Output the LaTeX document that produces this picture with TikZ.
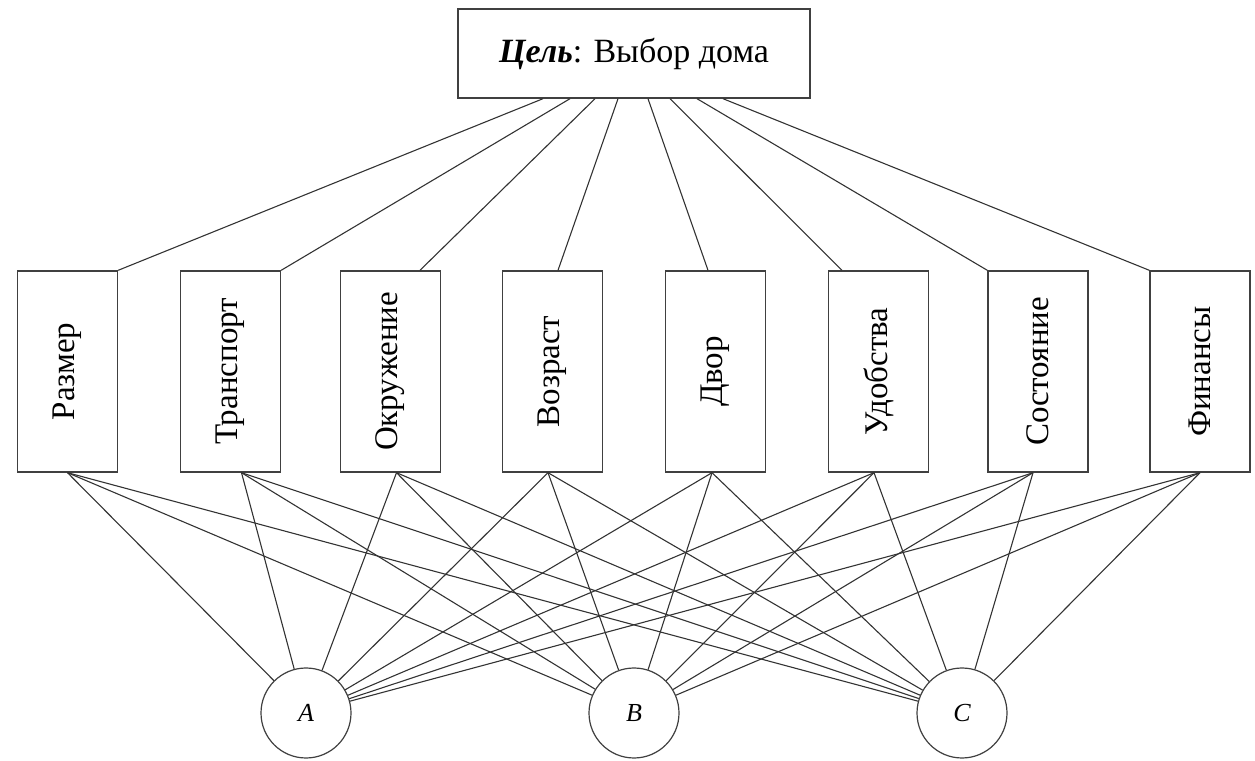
\documentclass[tikz,border=0pt]{standalone}
\usepackage{fontspec}
\setmainfont{Liberation Serif}
\begin{document}
\begin{tikzpicture}[x=1pt,y=1pt,
  frame/.style={draw=black!75, line width=1.4pt, fill=white, inner sep=0pt},
  crit/.style={frame, minimum width=100pt, minimum height=201pt},
  label/.style={rotate=90, font=\fontsize{33}{38}\selectfont},
  alt/.style={draw=black!75, line width=1.2pt, circle, minimum size=90pt, inner sep=0pt,
              font=\fontsize{26}{30}\selectfont\itshape},
  link/.style={draw=black!80, line width=1.1pt}]
\useasboundingbox (0,0) rectangle (1255,760);

% goal
\node[frame, minimum width=352pt, minimum height=89pt,
      font=\fontsize{34}{40}\selectfont] (goal) at (634,706.5)
      {{\bfseries\itshape Цель}: Выбор дома};

% criteria
\node[crit] (c1) at (67.5,388.5) {};
\node[crit] (c2) at (230.5,388.5) {};
\node[crit] (c3) at (390.5,388.5) {};
\node[crit] (c4) at (552.5,388.5) {};
\node[crit] (c5) at (715.5,388.5) {};
\node[crit] (c6) at (878.5,388.5) {};
\node[crit] (c7) at (1038,388.5) {};
\node[crit] (c8) at (1200,388.5) {};
\node[label] at (c1) {Размер};
\node[label] at (c2) {Транспорт};
\node[label] at (c3) {Окружение};
\node[label] at (c4) {Возраст};
\node[label] at (c5) {Двор};
\node[label] at (c6) {Удобства};
\node[label] at (c7) {Состояние};
\node[label] at (c8) {Финансы};

% alternatives
\node[alt] (A) at (306,47) {A};
\node[alt] (B) at (634,47) {B};
\node[alt] (C) at (962,47) {C};

% goal to criteria
\draw[link] ([xshift=-91pt]goal.south) -- (c1.north east);
\draw[link] ([xshift=-64pt]goal.south) -- (c2.north east);
\draw[link] ([xshift=-39pt]goal.south) -- ([xshift=29.5pt]c3.north);
\draw[link] ([xshift=-16pt]goal.south) -- ([xshift=5.5pt]c4.north);
\draw[link] ([xshift=14pt]goal.south) -- ([xshift=-7.5pt]c5.north);
\draw[link] ([xshift=36pt]goal.south) -- ([xshift=-36.5pt]c6.north);
\draw[link] ([xshift=63pt]goal.south) -- (c7.north west);
\draw[link] ([xshift=89pt]goal.south) -- (c8.north west);

% criteria to alternatives
\coordinate (b1) at (c1.south);
\coordinate (b2) at ([xshift=11pt]c2.south);
\coordinate (b3) at ([xshift=6pt]c3.south);
\coordinate (b4) at ([xshift=-4.5pt]c4.south);
\coordinate (b5) at ([xshift=-3.5pt]c5.south);
\coordinate (b6) at ([xshift=-4.5pt]c6.south);
\coordinate (b7) at ([xshift=-5pt]c7.south);
\coordinate (b8) at (c8.south);
\foreach \i in {1,...,8}{
  \foreach \a in {A,B,C}{
    \draw[link] (b\i) -- (\a);
  }
}
\end{tikzpicture}
\end{document}
